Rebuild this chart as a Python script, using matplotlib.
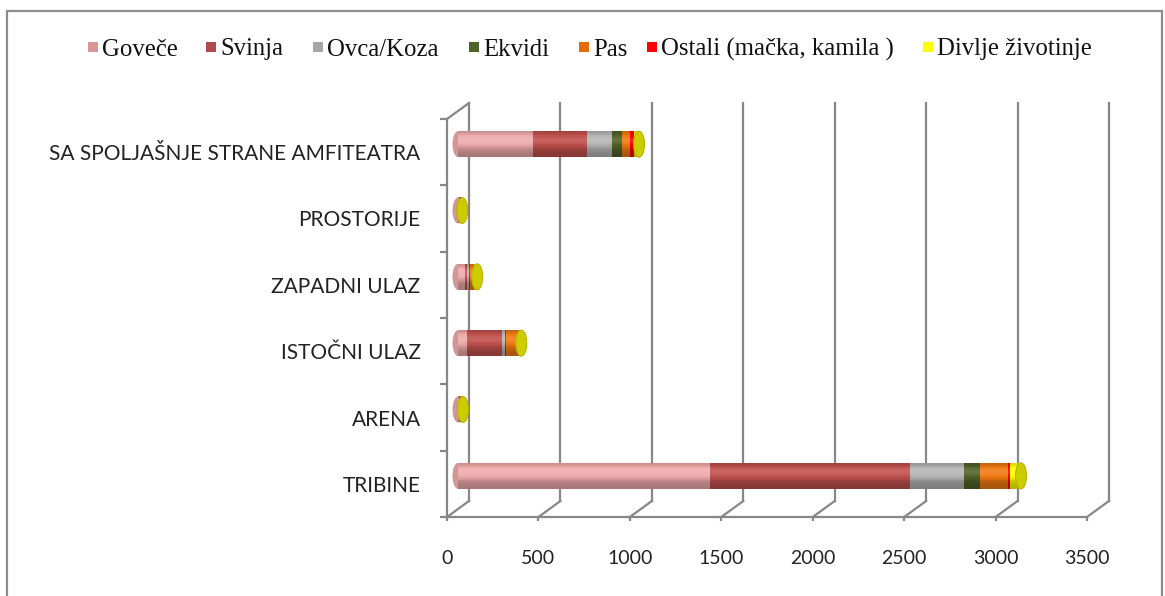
import matplotlib
matplotlib.use("Agg")
import matplotlib.pyplot as plt
import matplotlib.transforms as mtransforms
from matplotlib.patches import Ellipse, Rectangle
from matplotlib.lines import Line2D
import numpy as np
import matplotlib.colors as mcolors

# ---------------- data ----------------
categories = ["TRIBINE", "ARENA", "ISTOČNI ULAZ", "ZAPADNI ULAZ", "PROSTORIJE",
              "SA SPOLJAŠNJE STRANE AMFITEATRA"]
series_names = ["Goveče", "Svinja", "Ovca/Koza", "Ekvidi", "Pas",
                "Ostali (mačka, kamila )", "Divlje životinje"]
govece = [1378, 8, 50, 40, 8, 410]
svinja = [1094, 3, 190, 10, 4, 295]
ovca_koza = [295, 1, 16, 12, 1, 137]
ekvidi = [88, 1, 5, 3, 1, 55]
pas = [153, 3, 70, 20, 1, 44]
ostali = [11, 1, 3, 2, 0, 22]
divlje = [60, 10, 12, 18, 8, 27]
x_ticks = [0, 500, 1000, 1500, 2000, 2500, 3000, 3500]

series_values = [govece, svinja, ovca_koza, ekvidi, pas, ostali, divlje]
bar_colors = ["#eeaaaa", "#c0504d", "#b4b4b4", "#4f6228", "#f07810", "#ff0000", "#ffff00"]
legend_colors = ["#d99694", "#b04b4b", "#a6a6a6", "#4f6228", "#e46c0a", "#ff0000", "#ffff00"]

W, H, DPI = 1165, 596, 100
fig = plt.figure(figsize=(W / DPI, H / DPI), dpi=DPI)
fig.patch.set_facecolor("white")

# figure border
fig.add_artist(Rectangle((7 / W, -0.05), (1162 - 7) / W, (H - 11) / H + 0.05,
                         transform=fig.transFigure, fill=False,
                         edgecolor="#8c8c8c", linewidth=1.6))

ax = fig.add_axes([447 / W, 79 / H, 640 / W, 398 / H])
ax.set_xlim(0, 3500)
ax.set_ylim(0, len(categories))
ax.patch.set_visible(False)

gray = "#878787"
for s in ["top", "right"]:
    ax.spines[s].set_visible(False)
for s in ["left", "bottom"]:
    ax.spines[s].set_color(gray)
    ax.spines[s].set_linewidth(1.6)

label_font = "Lato"
ax.set_xticks(x_ticks)
ax.set_xticklabels([str(v) for v in x_ticks], fontsize=14, family=label_font, color="#222222")
ax.tick_params(axis="x", length=3, width=1.6, color=gray, pad=21)
ax.set_yticks(np.arange(0, len(categories) + 1))
ax.set_yticklabels([])
ax.tick_params(axis="y", which="major", length=5, width=1.6, color=gray)
ax.set_yticks(np.arange(len(categories)) + 0.5, minor=True)
ax.set_yticklabels(categories, minor=True, fontsize=15, family=label_font, color="#222222")
ax.tick_params(axis="y", which="minor", length=0, pad=19)
for lbl in ax.get_yticklabels(minor=True):
    lbl.set_va("center_baseline")

# 3D offsets (in pixels): back wall and bar depth
back = ax.transData + mtransforms.ScaledTranslation(22 / DPI, 16 / DPI, fig.dpi_scale_trans)
mid = ax.transData + mtransforms.ScaledTranslation(11 / DPI, 8 / DPI, fig.dpi_scale_trans)

inv = fig.transFigure.inverted()


def fig_line(p1, p2):
    a = inv.transform(p1)
    b = inv.transform(p2)
    fig.add_artist(Line2D([a[0], b[0]], [a[1], b[1]], transform=fig.transFigure,
                          color=gray, linewidth=1.6, zorder=1))


for v in x_ticks:
    ax.plot([v, v], [0, len(categories)], transform=back, color=gray, lw=1.6,
            clip_on=False, zorder=1)
    fig_line(ax.transData.transform((v, 0)), back.transform((v, 0)))
fig_line(ax.transData.transform((0, len(categories))), back.transform((0, len(categories))))


def shade(color, f):
    c = np.array(mcolors.to_rgb(color))
    if f >= 1:
        return tuple(c + (1 - c) * (f - 1))
    return tuple(c * f)


bar_h = 0.39
n_strips = 14
ypos = np.arange(len(categories)) + 0.5
cap_w = 60  # data units (ellipse width of cylinder cap)

totals = np.sum(np.array(series_values), axis=0)

# left caps
for yi in ypos:
    ax.add_patch(Ellipse((0, yi), cap_w, bar_h, transform=mid,
                         facecolor=shade(bar_colors[0], 0.88), edgecolor="none",
                         zorder=2, clip_on=False))

left = np.zeros(len(categories))
for vals, col in zip(series_values, bar_colors):
    vals = np.array(vals, dtype=float)
    for k in range(n_strips):
        t = (k + 0.5) / n_strips
        f = 0.7 + 0.42 * np.exp(-((t - 0.66) / 0.3) ** 2)
        y0 = ypos - bar_h / 2 + k * bar_h / n_strips
        ax.barh(y0, vals, left=left, height=bar_h / n_strips * 1.05, align="edge",
                color=shade(col, f), edgecolor="none", transform=mid,
                zorder=3, clip_on=False)
    left = left + vals

# right caps
for yi, tot in zip(ypos, totals):
    ax.add_patch(Ellipse((tot, yi), cap_w, bar_h, transform=mid,
                         facecolor="#cccc00", edgecolor="#b5b500", linewidth=0.8,
                         zorder=4, clip_on=False))

# legend (manual, at measured positions)
leg_sq_x = [88, 206, 313, 469, 579, 647, 923]
leg_y = H - 47
for name, col, sx in zip(series_names, legend_colors, leg_sq_x):
    fig.add_artist(Rectangle((sx / W, (leg_y - 5) / H), 10 / W, 10 / H,
                             transform=fig.transFigure, facecolor=col, edgecolor="none"))
    fig.text((sx + 14) / W, leg_y / H, name, fontsize=17.8, family="Liberation Serif",
             va="center_baseline", ha="left", color="#111111")

fig.savefig("out.png", dpi=DPI, facecolor="white")
